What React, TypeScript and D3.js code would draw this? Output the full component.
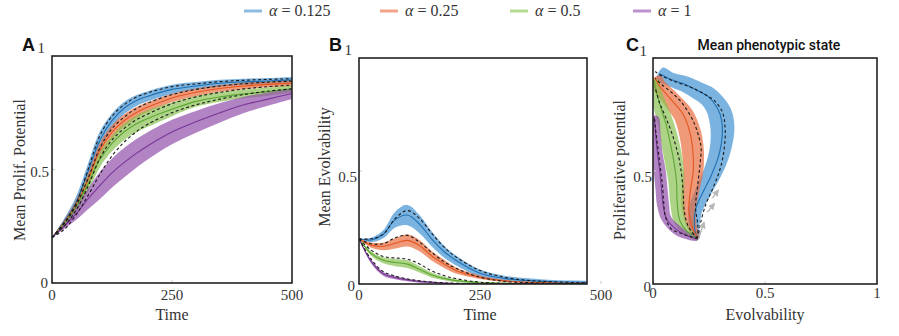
import React from 'react';
import * as d3 from 'd3';

const time = [0, 25, 50, 75, 100, 125, 150, 175, 200, 250, 300, 350, 400, 450, 500];
const alphaLabels = ['0.125', '0.25', '0.5', '1'];

// A: mean proliferative potential (solid = simulation mean, spread = band half width, dashed = model)
const profMean125 = [0.2, 0.27, 0.355, 0.49, 0.63, 0.715, 0.77, 0.803, 0.823, 0.853, 0.868, 0.88, 0.886, 0.89, 0.895];
const profMean25 = [0.2, 0.265, 0.345, 0.455, 0.585, 0.665, 0.715, 0.75, 0.775, 0.815, 0.84, 0.857, 0.868, 0.875, 0.88];
const profMean5 = [0.2, 0.26, 0.335, 0.435, 0.545, 0.615, 0.665, 0.7, 0.725, 0.765, 0.8, 0.82, 0.833, 0.843, 0.855];
const profMean1 = [0.2, 0.25, 0.305, 0.37, 0.43, 0.485, 0.53, 0.57, 0.605, 0.665, 0.71, 0.75, 0.785, 0.81, 0.835];
const profSpread125 = [0, 0.012, 0.025, 0.035, 0.038, 0.032, 0.027, 0.024, 0.022, 0.02, 0.017, 0.015, 0.014, 0.013, 0.013];
const profSpread25 = [0, 0.012, 0.022, 0.028, 0.032, 0.03, 0.027, 0.024, 0.022, 0.019, 0.017, 0.015, 0.014, 0.013, 0.013];
const profSpread5 = [0, 0.012, 0.022, 0.032, 0.034, 0.035, 0.036, 0.037, 0.037, 0.03, 0.024, 0.021, 0.019, 0.018, 0.016];
const profSpread1 = [0, 0.012, 0.028, 0.045, 0.06, 0.064, 0.065, 0.063, 0.06, 0.054, 0.048, 0.043, 0.036, 0.029, 0.024];
const profModel125 = [0.2, 0.265, 0.35, 0.5, 0.65, 0.735, 0.785, 0.818, 0.838, 0.865, 0.877, 0.887, 0.893, 0.897, 0.9];
const profModel25 = [0.2, 0.26, 0.34, 0.46, 0.595, 0.68, 0.73, 0.768, 0.793, 0.83, 0.853, 0.868, 0.878, 0.885, 0.89];
const profModel5 = [0.2, 0.25, 0.32, 0.425, 0.55, 0.63, 0.68, 0.718, 0.745, 0.79, 0.82, 0.84, 0.855, 0.865, 0.872];
const profModel1 = [0.2, 0.235, 0.3, 0.385, 0.48, 0.56, 0.62, 0.665, 0.7, 0.75, 0.785, 0.81, 0.83, 0.845, 0.855];

// B: mean evolvability
const evolMean125 = [0.2, 0.195, 0.22, 0.285, 0.305, 0.265, 0.2, 0.145, 0.105, 0.048, 0.025, 0.015, 0.01, 0.008, 0.006];
const evolMean25 = [0.2, 0.172, 0.166, 0.18, 0.193, 0.17, 0.125, 0.09, 0.06, 0.03, 0.014, 0.007, 0.004, 0.003, 0.002];
const evolMean5 = [0.2, 0.135, 0.105, 0.095, 0.088, 0.065, 0.04, 0.025, 0.015, 0.006, 0.003, 0.002, 0.001, 0.001, 0.001];
const evolMean1 = [0.2, 0.1, 0.045, 0.028, 0.018, 0.011, 0.007, 0.004, 0.002, 0.001, 0.001, 0.001, 0, 0, 0];
const evolSpread125 = [0, 0.01, 0.018, 0.035, 0.045, 0.04, 0.033, 0.027, 0.022, 0.016, 0.012, 0.01, 0.008, 0.007, 0.006];
const evolSpread25 = [0, 0.012, 0.017, 0.023, 0.027, 0.025, 0.021, 0.018, 0.014, 0.008, 0.005, 0.003, 0.003, 0.003, 0.003];
const evolSpread5 = [0, 0.01, 0.013, 0.016, 0.017, 0.014, 0.011, 0.008, 0.006, 0.004, 0.003, 0.002, 0.002, 0.002, 0.002];
const evolSpread1 = [0, 0.008, 0.008, 0.007, 0.006, 0.005, 0.004, 0.003, 0.002, 0.002, 0.002, 0.002, 0.002, 0.002, 0.002];
const evolModel125 = [0.2, 0.2, 0.22, 0.29, 0.325, 0.29, 0.225, 0.165, 0.12, 0.06, 0.03, 0.016, 0.01, 0.006, 0.004];
const evolModel25 = [0.2, 0.178, 0.178, 0.205, 0.215, 0.185, 0.14, 0.1, 0.07, 0.03, 0.012, 0.006, 0.003, 0.002, 0.002];
const evolModel5 = [0.2, 0.15, 0.122, 0.115, 0.11, 0.088, 0.058, 0.038, 0.024, 0.008, 0.003, 0.002, 0.001, 0.001, 0.001];
const evolModel1 = [0.2, 0.11, 0.055, 0.035, 0.022, 0.014, 0.009, 0.005, 0.003, 0.001, 0.001, 0, 0, 0, 0];

// C: phase plane (evolvability, proliferative potential); W = band half width in px
const phaseX125 = [0.2, 0.185, 0.19, 0.22, 0.258, 0.288, 0.305, 0.31, 0.3, 0.28, 0.245, 0.2, 0.14, 0.08, 0.03];
const phaseY125 = [0.2, 0.25, 0.33, 0.4, 0.476, 0.55, 0.62, 0.69, 0.75, 0.79, 0.83, 0.855, 0.885, 0.905, 0.93];
const phaseW125 = [2, 5, 7, 8, 9, 10, 11, 12, 12, 11, 10, 9, 8, 7, 7];
const phaseX25 = [0.2, 0.172, 0.16, 0.168, 0.18, 0.178, 0.165, 0.135, 0.095, 0.06, 0.03, 0.01];
const phaseY25 = [0.2, 0.26, 0.33, 0.42, 0.5, 0.59, 0.67, 0.75, 0.8, 0.84, 0.875, 0.91];
const phaseW25 = [2, 5, 7, 9, 10, 11, 11, 10, 9, 8, 7, 6];
const phaseX5 = [0.2, 0.15, 0.12, 0.108, 0.105, 0.095, 0.08, 0.06, 0.035, 0.015, 0.005];
const phaseY5 = [0.2, 0.235, 0.28, 0.36, 0.45, 0.53, 0.61, 0.7, 0.78, 0.85, 0.9];
const phaseW5 = [2, 4, 6, 7, 8, 9, 9, 8, 7, 5, 4];
const phaseX1 = [0.2, 0.145, 0.1, 0.06, 0.045, 0.038, 0.03, 0.02, 0.012, 0.006];
const phaseY1 = [0.2, 0.217, 0.245, 0.29, 0.35, 0.42, 0.5, 0.58, 0.66, 0.74];
const phaseW1 = [2, 4, 5, 5, 6, 6, 6, 5, 5, 4];
const phaseModelX125 = [0.2, 0.21, 0.235, 0.27, 0.3, 0.318, 0.322, 0.31, 0.275, 0.23, 0.17, 0.1, 0.04, 0.01];
const phaseModelY125 = [0.2, 0.26, 0.35, 0.43, 0.51, 0.6, 0.69, 0.76, 0.81, 0.84, 0.87, 0.895, 0.92, 0.94];
const phaseModelX25 = [0.2, 0.2, 0.19, 0.2, 0.21, 0.215, 0.205, 0.18, 0.13, 0.08, 0.035, 0.01];
const phaseModelY25 = [0.2, 0.26, 0.34, 0.44, 0.53, 0.6, 0.65, 0.72, 0.8, 0.85, 0.885, 0.91];
const phaseModelX5 = [0.2, 0.16, 0.14, 0.135, 0.128, 0.115, 0.09, 0.06, 0.03, 0.012];
const phaseModelY5 = [0.2, 0.25, 0.32, 0.4, 0.48, 0.56, 0.65, 0.73, 0.8, 0.86];
const phaseModelX1 = [0.2, 0.13, 0.08, 0.055, 0.048, 0.042, 0.032, 0.022, 0.012, 0.006];
const phaseModelY1 = [0.2, 0.222, 0.245, 0.3, 0.36, 0.44, 0.52, 0.6, 0.68, 0.74];
const arrowStart = [[0.202, 0.198], [0.243, 0.318], [0.265, 0.38]];
const arrowEnd = [[0.228, 0.272], [0.273, 0.355], [0.291, 0.414]];

const lineColors = ['#1f6fb2', '#e4551f', '#5da534', '#7a3596'];
const bandColors = ['#3d8fd1', '#e8683a', '#86bf4c', '#8e4aa8'];

const serif = '"Liberation Serif", "DejaVu Serif", serif';
const sans = '"Liberation Sans", Arial, sans-serif';

type Box = { l: number; r: number; t: number; b: number };

function Frame({ box, x, y, xTicks, xFmt, yLabels, xLabel, yLabel, yLabelX, letter, xBase }: any) {
  const b: Box = box;
  return (
    <g>
      {xTicks.map((t: number) => (
        <g key={'xt' + t}>
          <line x1={x(t)} x2={x(t)} y1={b.b} y2={b.b - 3} stroke="#ccc" />
          <text x={x(t)} y={b.b + xBase} textAnchor="middle" fontFamily={serif} fontSize={15} fill="#333">
            {xFmt(t)}
          </text>
        </g>
      ))}
      {yLabels.map((d: any) => (
        <g key={'yt' + d.v}>
          <line x1={b.l} x2={b.l + 3} y1={y(d.v)} y2={y(d.v)} stroke="#ccc" />
          <text x={b.l - d.gap} y={y(d.v) + d.dy} textAnchor="end" fontFamily={serif} fontSize={15} fill="#333">
            {d.text}
          </text>
        </g>
      ))}
      <rect x={b.l} y={b.t} width={b.r - b.l} height={b.b - b.t} fill="none" stroke="#222" strokeWidth={1.6} />
      <text x={(b.l + b.r) / 2 + (xLabel.dx || 0)} y={320} textAnchor="middle" fontFamily={serif} fontSize={16} fill="#333">
        {xLabel.text}
      </text>
      <text
        transform={`translate(${yLabelX},${yLabel.cy}) rotate(-90)`}
        textAnchor="middle"
        fontFamily={serif}
        fontSize={16}
        fill="#333"
      >
        {yLabel.text}
      </text>
      <text x={letter.x} y={51} fontFamily={sans} fontWeight="bold" fontSize={18} fill="#111">
        {letter.text}
      </text>
    </g>
  );
}

function TimeSeries({ id, box, x, y, means, spreads, models }: any) {
  const area = (m: number[], s: number[]) =>
    d3
      .area<number>()
      .x((_, i) => x(time[i]))
      .y0((d, i) => y(Math.max(0, d - s[i])))
      .y1((d, i) => y(d + s[i]))
      .curve(d3.curveCatmullRom.alpha(0.5))(m) || '';
  const line = d3
    .line<number>()
    .x((_, i) => x(time[i]))
    .y((d) => y(d))
    .curve(d3.curveCatmullRom.alpha(0.5));
  return (
    <g clipPath={`url(#${id})`}>
      <defs>
        <clipPath id={id}>
          <rect x={box.l} y={box.t} width={box.r - box.l} height={box.b - box.t} />
        </clipPath>
      </defs>
      {means.map((m: number[], i: number) => (
        <path key={'a' + i} d={area(m, spreads[i])} fill={bandColors[i]} fillOpacity={0.68} />
      ))}
      {means.map((m: number[], i: number) => (
        <path key={'l' + i} d={line(m) || ''} fill="none" stroke={lineColors[i]} strokeWidth={1.1} />
      ))}
      {models.map((m: number[], i: number) => (
        <path key={'d' + i} d={line(m) || ''} fill="none" stroke="#1a1a1a" strokeWidth={1.1} strokeDasharray="3,2.5" />
      ))}
    </g>
  );
}

function ribbon(xs: number[], ys: number[], hw: number[], sx: any, sy: any) {
  const pts = xs.map((v, i) => [sx(v), sy(ys[i])]);
  const left: [number, number][] = [];
  const right: [number, number][] = [];
  pts.forEach((p, i) => {
    const a = pts[Math.max(0, i - 1)];
    const c = pts[Math.min(pts.length - 1, i + 1)];
    const dx = c[0] - a[0];
    const dy = c[1] - a[1];
    const len = Math.hypot(dx, dy) || 1;
    const nx = -dy / len;
    const ny = dx / len;
    left.push([p[0] + nx * hw[i], p[1] + ny * hw[i]]);
    right.push([p[0] - nx * hw[i], p[1] - ny * hw[i]]);
  });
  return d3.line().curve(d3.curveCatmullRomClosed)(left.concat(right.reverse())) || '';
}

export default function App() {
  const boxA: Box = { l: 52, r: 292, t: 56, b: 283 };
  const boxB: Box = { l: 359, r: 587, t: 58, b: 284 };
  const boxC: Box = { l: 653, r: 877, t: 58, b: 284 };

  const xA = d3.scaleLinear().domain([0, 500]).range([boxA.l, boxA.r]);
  const yA = d3.scaleLinear().domain([0, 1]).range([boxA.b, boxA.t]);
  const xB = d3.scaleLinear().domain([0, 500]).range([359, 601]);
  const yB = d3.scaleLinear().domain([0, 1]).range([boxB.b, boxB.t]);
  const xC = d3.scaleLinear().domain([0, 1]).range([boxC.l, boxC.r]);
  const yC = d3.scaleLinear().domain([0, 1]).range([boxC.b, boxC.t]);

  const phaseX = [phaseX125, phaseX25, phaseX5, phaseX1];
  const phaseY = [phaseY125, phaseY25, phaseY5, phaseY1];
  const phaseW = [phaseW125, phaseW25, phaseW5, phaseW1];
  const modelX = [phaseModelX125, phaseModelX25, phaseModelX5, phaseModelX1];
  const modelY = [phaseModelY125, phaseModelY25, phaseModelY5, phaseModelY1];
  const pLine = d3.line().curve(d3.curveCatmullRom.alpha(0.5));
  const pts = (xs: number[], ys: number[]) => xs.map((v, i) => [xC(v), yC(ys[i])] as [number, number]);

  const legendX = [244, 380, 510, 633];

  return (
    <svg width={899} height={336} style={{ position: 'absolute', left: 0, top: 0, background: '#fff' }}>
      <defs>
        <marker id="arr" viewBox="0 0 10 10" refX="8" refY="5" markerWidth="5" markerHeight="5" orient="auto">
          <path d="M0,0 L10,5 L0,10 z" fill="#b8b8b8" />
        </marker>
        <clipPath id="clipC">
          <rect x={boxC.l} y={boxC.t} width={boxC.r - boxC.l} height={boxC.b - boxC.t} />
        </clipPath>
      </defs>

      {/* legend */}
      {alphaLabels.map((a, i) => (
        <g key={a}>
          <line x1={legendX[i]} x2={legendX[i] + 18} y1={11} y2={11} stroke={bandColors[i]} strokeOpacity={0.6} strokeWidth={3} />
          <text x={legendX[i] + 25} y={16} fontFamily={serif} fontSize={16} fill="#333">
            <tspan fontStyle="italic">α</tspan> = {a}
          </text>
        </g>
      ))}

      {/* A */}
      <TimeSeries
        id="clipA"
        box={boxA}
        x={xA}
        y={yA}
        means={[profMean125, profMean25, profMean5, profMean1]}
        spreads={[profSpread125, profSpread25, profSpread5, profSpread1]}
        models={[profModel125, profModel25, profModel5, profModel1]}
      />
      <Frame
        box={boxA}
        x={xA}
        y={yA}
        xTicks={[0, 250, 500]}
        xFmt={(t: number) => String(t)}
        xBase={17}
        yLabels={[
          { v: 0, text: '0', dy: 5, gap: 4 },
          { v: 0.5, text: '0.5', dy: 7, gap: 3 },
          { v: 1, text: '1', dy: -3, gap: 7 },
        ]}
        xLabel={{ text: 'Time', dx: 0 }}
        yLabel={{ text: 'Mean Prolif. Potential', cy: 170 }}
        yLabelX={25}
        letter={{ text: 'A', x: 22 }}
      />

      {/* B */}
      <TimeSeries
        id="clipB"
        box={boxB}
        x={xB}
        y={yB}
        means={[evolMean125, evolMean25, evolMean5, evolMean1]}
        spreads={[evolSpread125, evolSpread25, evolSpread5, evolSpread1]}
        models={[evolModel125, evolModel25, evolModel5, evolModel1]}
      />
      <Frame
        box={boxB}
        x={xB}
        y={yB}
        xTicks={[0, 250, 500]}
        xFmt={(t: number) => String(t)}
        xBase={16}
        yLabels={[
          { v: 0, text: '0', dy: 7, gap: 4 },
          { v: 0.5, text: '0.5', dy: 11, gap: 2 },
          { v: 1, text: '1', dy: -3, gap: 7 },
        ]}
        xLabel={{ text: 'Time', dx: 7 }}
        yLabel={{ text: 'Mean Evolvability', cy: 167 }}
        yLabelX={330}
        letter={{ text: 'B', x: 329 }}
      />

      {/* C */}
      <g clipPath="url(#clipC)">
        {phaseX.map((xs, i) => (
          <path key={'r' + i} d={ribbon(xs, phaseY[i], phaseW[i], xC, yC)} fill={bandColors[i]} fillOpacity={0.68} />
        ))}
        {phaseX.map((xs, i) => (
          <path key={'pl' + i} d={pLine(pts(xs, phaseY[i])) || ''} fill="none" stroke={lineColors[i]} strokeWidth={1.1} />
        ))}
        {modelX.map((xs, i) => (
          <path
            key={'pm' + i}
            d={pLine(pts(xs, modelY[i])) || ''}
            fill="none"
            stroke="#1a1a1a"
            strokeWidth={1.1}
            strokeDasharray="3,2.5"
          />
        ))}
        {arrowStart.map((s, i) => (
          <line
            key={'ar' + i}
            x1={xC(s[0])}
            y1={yC(s[1])}
            x2={xC(arrowEnd[i][0])}
            y2={yC(arrowEnd[i][1])}
            stroke="#b8b8b8"
            strokeWidth={1.4}
            markerEnd="url(#arr)"
          />
        ))}
      </g>
      <Frame
        box={boxC}
        x={xC}
        y={yC}
        xTicks={[0, 0.5, 1]}
        xFmt={(t: number) => String(t)}
        xBase={14}
        yLabels={[
          { v: 0, text: '0', dy: 8, gap: 2 },
          { v: 0.5, text: '0.5', dy: 11, gap: 1 },
          { v: 1, text: '1', dy: -2, gap: 6 },
        ]}
        xLabel={{ text: 'Evolvability', dx: 0 }}
        yLabel={{ text: 'Proliferative potential', cy: 170 }}
        yLabelX={625}
        letter={{ text: 'C', x: 626 }}
      />
      <text x={769} y={50} textAnchor="middle" fontFamily="Roboto, sans-serif" fontWeight={500} fontSize={14} fill="#111">
        Mean phenotypic state
      </text>
    </svg>
  );
}
